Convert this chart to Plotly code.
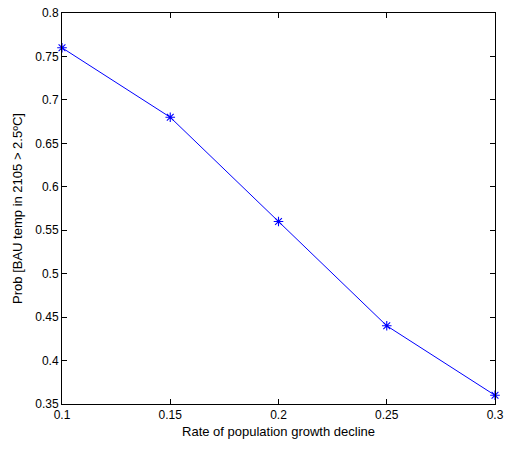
import plotly.graph_objects as go

rate = [0.1, 0.15, 0.2, 0.25, 0.3]
prob = [0.76, 0.68, 0.56, 0.44, 0.36]
x_ticks = [0.1, 0.15, 0.2, 0.25, 0.3]
x_labels = ["0.1", "0.15", "0.2", "0.25", "0.3"]
y_ticks = [0.35, 0.4, 0.45, 0.5, 0.55, 0.6, 0.65, 0.7, 0.75, 0.8]
y_labels = ["0.35", "0.4", "0.45", "0.5", "0.55", "0.6", "0.65", "0.7", "0.75", "0.8"]

fig = go.Figure()
fig.add_trace(go.Scatter(
    x=rate, y=prob, mode="lines+markers",
    line=dict(color="#0000ff", width=1),
    marker=dict(symbol="asterisk-open", size=8, color="#0000ff",
                line=dict(color="#0000ff", width=1.1)),
    cliponaxis=False,
))

axis_common = dict(
    showgrid=False, zeroline=False, showline=True, linecolor="black", linewidth=1,
    mirror="ticks", ticks="inside", ticklen=5, tickcolor="black", tickwidth=1,
    tickfont=dict(family="Liberation Sans, Arial", size=12, color="black"),
    automargin=False, ticklabeloverflow="allow",
)

fig.update_layout(
    width=505, height=450,
    margin=dict(l=62, r=10, t=13, b=46),
    paper_bgcolor="white", plot_bgcolor="white",
    showlegend=False,
    font=dict(family="Liberation Sans, Arial", size=12, color="black"),
    xaxis=dict(range=[0.1, 0.3], tickvals=x_ticks, ticktext=x_labels,
               title=dict(text="Rate of population growth decline", standoff=5,
                          font=dict(size=13)), **axis_common),
    yaxis=dict(range=[0.35, 0.8], tickvals=y_ticks, ticktext=y_labels,
               title=dict(text="Prob [BAU temp in 2105 > 2.5ºC]", standoff=9,
                          font=dict(size=13)), **axis_common),
)

fig.write_html(
    "out.html",
    config={"displayModeBar": False},
    post_script="document.body.style.margin='0';document.body.style.overflow='hidden';",
)
